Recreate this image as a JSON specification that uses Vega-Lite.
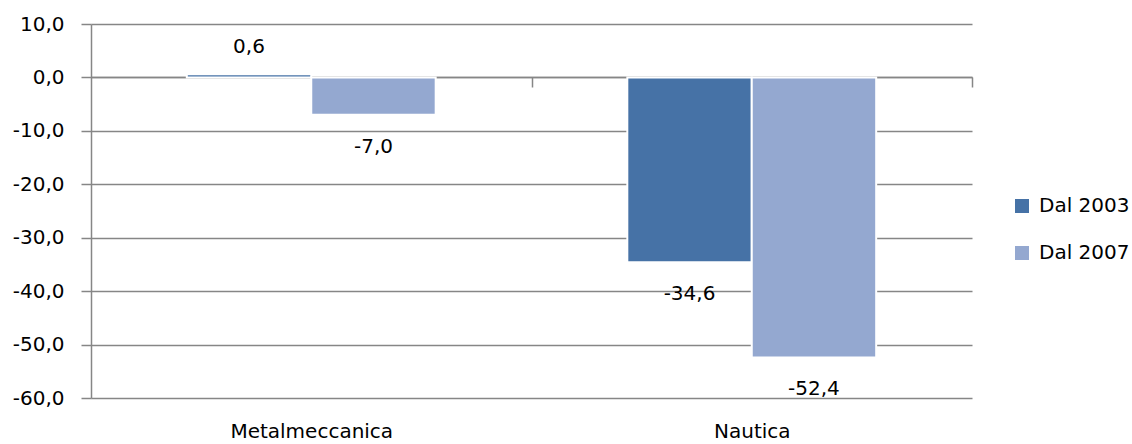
{
  "$schema": "https://vega.github.io/schema/vega-lite/v6.json",
  "autosize": {"type": "none"},
  "padding": {"left": 91, "top": 24, "right": 160, "bottom": 46},
  "width": 881,
  "height": 374,
  "background": "white",
  "config": {
    "locale": {"number": {"decimal": ",", "thousands": ".", "grouping": [3], "currency": ["", " €"], "minus": "-"}},
    "view": {"stroke": null},
    "font": "DejaVu Sans"
  },
  "data": {
    "values": [
      {"settore": "Metalmeccanica", "serie": "Dal 2003", "valore": 0.6},
      {"settore": "Metalmeccanica", "serie": "Dal 2007", "valore": -7.0},
      {"settore": "Nautica", "serie": "Dal 2003", "valore": -34.6},
      {"settore": "Nautica", "serie": "Dal 2007", "valore": -52.4}
    ]
  },
  "encoding": {
    "x": {
      "field": "settore", "type": "nominal", "sort": null, "title": null,
      "scale": {"paddingInner": 0.435, "paddingOuter": 0.2175},
      "axis": {
        "orient": "bottom", "offset": -321, "domain": true, "domainColor": "#868686", "domainWidth": 1.5,
        "ticks": true, "tickOffset": 220.25, "tickSize": 10, "tickColor": "#868686", "tickWidth": 1.5,
        "labelOffset": -220.25, "labelAngle": 0, "labelAlign": "center", "labelOverlap": false,
        "labelPadding": 334, "labelFontSize": 20, "labelColor": "#000000", "labelFont": "DejaVu Sans", "labelBaseline": "top"
      }
    },
    "xOffset": {"field": "serie", "type": "nominal", "sort": ["Dal 2003", "Dal 2007"], "scale": {"paddingInner": 0, "paddingOuter": 0}},
    "y": {
      "field": "valore", "type": "quantitative", "title": null,
      "scale": {"domain": [-60, 10], "nice": false, "zero": false},
      "axis": {
        "values": [-60, -50, -40, -30, -20, -10, 0, 10], "format": ".1f",
        "domain": true, "domainColor": "#868686", "domainWidth": 1.5,
        "ticks": true, "tickSize": 10, "tickColor": "#868686", "tickWidth": 1.5,
        "grid": true, "gridColor": "#868686", "gridWidth": 1.5,
        "labelPadding": 17, "labelFontSize": 20, "labelColor": "#000000", "labelFont": "DejaVu Sans"
      }
    }
  },
  "layer": [
    {
      "mark": {"type": "bar", "stroke": "#ffffff", "strokeWidth": 2},
      "encoding": {
        "color": {
          "field": "serie", "type": "nominal", "sort": ["Dal 2003", "Dal 2007"],
          "scale": {"domain": ["Dal 2003", "Dal 2007"], "range": ["#4672a6", "#94a8d0"]},
          "legend": {
            "title": null, "orient": "none", "legendX": 921, "legendY": 172,
            "symbolType": "square", "symbolSize": 196, "symbolStrokeWidth": 0,
            "labelFontSize": 20, "labelFont": "DejaVu Sans", "labelColor": "#000000",
            "labelOffset": 7, "rowPadding": 27
          }
        }
      }
    },
    {
      "transform": [{"filter": "datum.valore < 0"}],
      "mark": {"type": "text", "baseline": "middle", "dy": 32, "fontSize": 20, "font": "DejaVu Sans", "color": "#000000"},
      "encoding": {"text": {"field": "valore", "type": "quantitative", "format": ".1f"}}
    },
    {
      "transform": [{"filter": "datum.valore >= 0"}],
      "mark": {"type": "text", "baseline": "middle", "dy": -27, "fontSize": 20, "font": "DejaVu Sans", "color": "#000000"},
      "encoding": {"text": {"field": "valore", "type": "quantitative", "format": ".1f"}}
    }
  ]
}
